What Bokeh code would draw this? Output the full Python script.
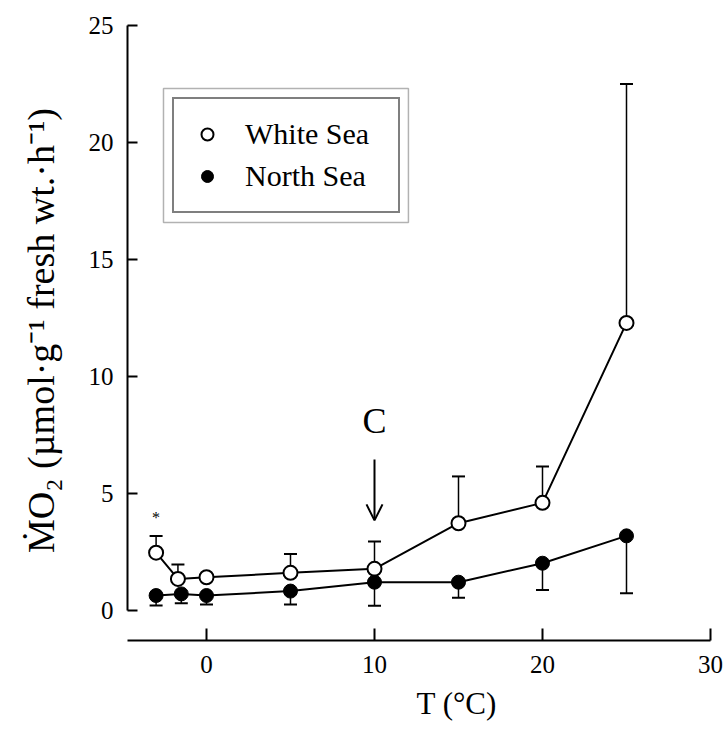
from bokeh.plotting import figure
from bokeh.models import (Range1d, FixedTicker, Whisker, TeeHead, ColumnDataSource,
                          Legend, LegendItem, BoxAnnotation, Label, Arrow, OpenHead, Title)
from bokeh.embed import file_html
from bokeh.resources import INLINE

# ---- data ----
white_t = [-3, -1.7, 0, 5, 10, 15, 20, 25]
white_mo2 = [2.47, 1.35, 1.42, 1.61, 1.78, 3.73, 4.60, 12.29]
white_upper = [3.18, 1.97, 1.42, 2.41, 2.95, 5.73, 6.15, 22.5]

north_t = [-3, -1.5, 0, 5, 10, 15, 20, 25]
north_mo2 = [0.64, 0.71, 0.64, 0.83, 1.21, 1.21, 2.02, 3.19]
north_lower = [0.21, 0.31, 0.26, 0.26, 0.20, 0.54, 0.88, 0.74]

x_ticks = [0, 10, 20, 30]
y_ticks = [0, 5, 10, 15, 20, 25]

series_names = ["White Sea", "North Sea"]
x_title = "T (°C)"
y_title = "ṀO₂ (µmol·g⁻¹ fresh wt.·h⁻¹)"
marker_text = "C"
marker_t = 10
star_t = -3

FONT = "Liberation Serif"

p = figure(width=727, height=732,
           x_range=Range1d(-4.702, 30.0), y_range=Range1d(-1.282, 25.214),
           output_backend="svg", toolbar_location=None,
           min_border_left=127, min_border_right=17, min_border_top=20, min_border_bottom=92)
p.outline_line_color = None
p.grid.visible = False
p.background_fill_color = "white"
p.border_fill_color = "white"

# axes
ya = p.yaxis[0]
ya.ticker = FixedTicker(ticks=y_ticks)
ya.bounds = (0, 25)
ya.major_tick_in = 10
ya.major_tick_out = 0
ya.minor_tick_line_color = None
ya.axis_line_width = 2
ya.major_tick_line_width = 2
ya.major_label_text_font = FONT
ya.major_label_text_font_size = "25px"
ya.major_label_text_color = "black"
ya.major_label_standoff = 14
ya.axis_label = y_title
ya.axis_label_text_font = FONT
ya.axis_label_text_font_style = "normal"
ya.axis_label_text_font_size = "38px"
ya.axis_label_text_color = "black"
ya.axis_label_standoff = 24

xa = p.xaxis[0]
xa.ticker = FixedTicker(ticks=x_ticks)
xa.bounds = (-5.1, 30)
xa.major_tick_in = 12
xa.major_tick_out = 0
xa.minor_tick_line_color = None
xa.axis_line_width = 2
xa.major_tick_line_width = 2
xa.major_label_text_font = FONT
xa.major_label_text_font_size = "25px"
xa.major_label_text_color = "black"
xa.major_label_standoff = 15

# x title placed under the axis
p.add_layout(Title(text=x_title, align="left", offset=289, standoff=17,
                   text_font=FONT, text_font_size="31px", text_font_style="normal",
                   text_color="black"), "below")

# error bars (drawn beneath the markers)
ws = ColumnDataSource(dict(t=white_t, m=white_mo2, hi=white_upper))
ns = ColumnDataSource(dict(t=north_t, m=north_mo2, lo=north_lower))
p.add_layout(Whisker(base="t", lower="m", upper="hi", source=ws, level="underlay",
                     line_width=1.5, line_color="black",
                     upper_head=TeeHead(size=13, line_width=2, line_color="black"),
                     lower_head=None))
p.add_layout(Whisker(base="t", lower="lo", upper="m", source=ns, level="underlay",
                     line_width=1.5, line_color="black",
                     lower_head=TeeHead(size=13, line_width=2, line_color="black"),
                     upper_head=None))

# lines and markers
p.line("t", "m", source=ws, line_width=2, line_color="black")
p.line("t", "m", source=ns, line_width=2, line_color="black")
r_w = p.scatter("t", "m", source=ws, marker="circle", size=14,
                fill_color="white", line_color="black", line_width=2)
r_n = p.scatter("t", "m", source=ns, marker="circle", size=14,
                fill_color="black", line_color="black", line_width=1)

# legend with double border
legend = Legend(items=[LegendItem(label=series_names[0], renderers=[r_w]),
                       LegendItem(label=series_names[1], renderers=[r_n])],
                location=(45, 427), padding=18, spacing=8,
                glyph_width=30, glyph_height=30, label_height=30,
                label_standoff=23, label_width=135,
                label_text_font=FONT, label_text_font_size="30px",
                label_text_color="black",
                border_line_color="black", border_line_width=2,
                background_fill_alpha=0)
p.add_layout(legend, "center")
p.add_layout(BoxAnnotation(left=-2.56, right=12.02, bottom=16.58, top=22.31,
                           fill_color=None, line_color="black", line_width=1.5))

# annotations
p.add_layout(Label(x=marker_t, y=8.1, text=marker_text, text_font=FONT, text_color="black",
                   text_font_size="36px", text_align="center", text_baseline="alphabetic"))
p.add_layout(Arrow(x_start=marker_t, y_start=6.45, x_end=marker_t, y_end=3.85,
                   line_width=2, line_color="black",
                   end=OpenHead(size=16, line_width=2, line_color="black")))
p.add_layout(Label(x=star_t, y=3.99, text="*", text_font=FONT, text_color="black",
                   text_font_size="16px", text_align="center", text_baseline="middle"))

open("out.html", "w").write(file_html(p, INLINE))
